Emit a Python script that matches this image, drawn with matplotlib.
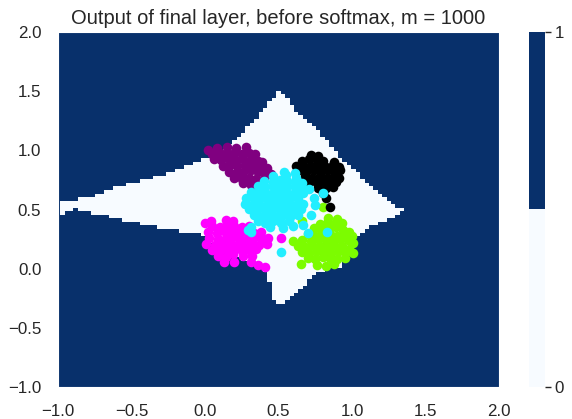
import numpy as np
import matplotlib
matplotlib.use("Agg")
import matplotlib.pyplot as plt
from matplotlib.colors import ListedColormap
from matplotlib.path import Path

plt.rcParams['font.family'] = ['Liberation Sans', 'DejaVu Sans']
plt.rcParams['text.color'] = '.15'
plt.rcParams['xtick.color'] = '.15'
plt.rcParams['ytick.color'] = '.15'

# outline of the region where the output is 0
region_x = [-0.99, -0.80, -0.65, -0.37, -0.05, 0.10, 0.19, 0.26, 0.41, 0.51,
            0.63, 0.78, 0.94, 1.10, 1.28, 1.35, 1.29, 1.14, 1.03, 0.92,
            0.76, 0.63, 0.53, 0.47, 0.43, 0.38, 0.20, -0.05, -0.34, -0.63,
            -0.88, -0.99]
region_y = [0.57, 0.60, 0.67, 0.76, 0.90, 0.98, 1.07, 1.15, 1.36, 1.52,
            1.32, 1.15, 0.92, 0.73, 0.54, 0.50, 0.44, 0.36, 0.27, 0.02,
            -0.03, -0.20, -0.31, -0.28, -0.07, 0.02, 0.10, 0.30, 0.35, 0.43,
            0.50, 0.46]

# scatter clusters
magenta_x = [0.04, 0.14, 0.19,
             0.05, 0.10, 0.15, 0.20, 0.25, 0.30,
             0.02, 0.08, 0.13, 0.18, 0.23, 0.28, 0.33, 0.38,
             0.03, 0.09, 0.14, 0.19, 0.24, 0.29, 0.34, 0.39, 0.43,
             0.01, 0.07, 0.12, 0.17, 0.22, 0.27, 0.32, 0.37, 0.42,
             0.05, 0.10, 0.15, 0.20, 0.25, 0.30, 0.35,
             0.09, 0.14, 0.19, 0.26, 0.32,
             0.13, 0.20, 0.31, 0.36, 0.41, 0.00, 0.52]
magenta_y = [0.40, 0.41, 0.40,
             0.36, 0.35, 0.37, 0.36, 0.35, 0.36,
             0.31, 0.30, 0.32, 0.31, 0.30, 0.31, 0.30, 0.31,
             0.26, 0.25, 0.26, 0.27, 0.25, 0.26, 0.27, 0.25, 0.26,
             0.21, 0.20, 0.21, 0.22, 0.20, 0.21, 0.22, 0.20, 0.21,
             0.16, 0.15, 0.16, 0.17, 0.15, 0.16, 0.17,
             0.11, 0.10, 0.12, 0.11, 0.11,
             0.06, 0.06, 0.06, 0.03, 0.01, 0.39, 0.26]

green_x = [0.84, 0.90,
           0.78, 0.83, 0.88, 0.93,
           0.74, 0.79, 0.84, 0.89, 0.94, 0.98,
           0.70, 0.75, 0.80, 0.85, 0.90, 0.95, 1.00,
           0.60, 0.66, 0.72, 0.77, 0.82, 0.87, 0.92, 0.97, 1.01,
           0.63, 0.68, 0.73, 0.78, 0.83, 0.88, 0.93, 0.98,
           0.66, 0.71, 0.76, 0.81, 0.86, 0.91, 0.96, 1.01,
           0.70, 0.75, 0.80, 0.85, 0.90, 0.95,
           0.65, 0.76, 0.82, 0.88, 0.80, 0.66]
green_y = [0.43, 0.42,
           0.38, 0.39, 0.38, 0.39,
           0.34, 0.33, 0.34, 0.35, 0.33, 0.31,
           0.29, 0.28, 0.30, 0.29, 0.28, 0.30, 0.28,
           0.23, 0.24, 0.23, 0.25, 0.24, 0.23, 0.25, 0.24, 0.22,
           0.19, 0.18, 0.20, 0.19, 0.18, 0.20, 0.19, 0.17,
           0.14, 0.13, 0.15, 0.14, 0.13, 0.15, 0.14, 0.13,
           0.09, 0.08, 0.10, 0.09, 0.08, 0.09,
           0.04, 0.03, 0.02, 0.04, 0.52, 0.40]

purple_x = [0.02, 0.08, 0.15, 0.21, 0.28,
            0.05, 0.10, 0.15, 0.20, 0.25, 0.30, 0.34,
            0.06, 0.11, 0.16, 0.21, 0.26, 0.31, 0.36, 0.39,
            0.12, 0.17, 0.22, 0.27, 0.32, 0.37, 0.42,
            0.16, 0.21, 0.26, 0.31, 0.36, 0.41, 0.45,
            0.20, 0.25, 0.30, 0.35, 0.40,
            0.26, 0.31, 0.36, 0.33]
purple_y = [1.00, 1.02, 1.03, 1.02, 1.03,
            0.97, 0.98, 0.97, 0.98, 0.97, 0.98, 0.97,
            0.93, 0.92, 0.93, 0.92, 0.93, 0.92, 0.91, 0.90,
            0.87, 0.88, 0.87, 0.88, 0.87, 0.86, 0.85,
            0.82, 0.81, 0.82, 0.83, 0.82, 0.81, 0.80,
            0.77, 0.76, 0.77, 0.76, 0.76,
            0.72, 0.71, 0.72, 0.66]

black_x = [0.72, 0.77,
           0.66, 0.71, 0.76, 0.80, 0.88,
           0.62, 0.67, 0.72, 0.77, 0.82, 0.87, 0.91,
           0.64, 0.69, 0.74, 0.79, 0.84, 0.89, 0.92,
           0.68, 0.73, 0.78, 0.83, 0.88, 0.91,
           0.71, 0.76, 0.81, 0.86, 0.89,
           0.77, 0.82, 0.87, 0.80,
           0.85, 0.82]
black_y = [0.96, 0.95,
           0.91, 0.93, 0.92, 0.91, 0.90,
           0.87, 0.88, 0.87, 0.88, 0.86, 0.88, 0.86,
           0.83, 0.82, 0.83, 0.82, 0.83, 0.82, 0.83,
           0.78, 0.77, 0.78, 0.77, 0.78, 0.77,
           0.73, 0.72, 0.73, 0.72, 0.73,
           0.68, 0.68, 0.69, 0.64,
           0.52, 0.60]

cyan_x = [0.46, 0.55, 0.62,
          0.40, 0.46, 0.51, 0.56, 0.61, 0.66,
          0.36, 0.41, 0.46, 0.51, 0.56, 0.61, 0.66,
          0.31, 0.36, 0.41, 0.46, 0.51, 0.56, 0.61, 0.67,
          0.28, 0.33, 0.38, 0.43, 0.48, 0.53, 0.58, 0.63,
          0.27, 0.32, 0.37, 0.42, 0.47, 0.52, 0.57, 0.62, 0.67,
          0.30, 0.35, 0.40, 0.45, 0.50, 0.55, 0.60, 0.65,
          0.33, 0.38, 0.43, 0.48, 0.53, 0.58, 0.63,
          0.36, 0.41, 0.46, 0.52, 0.57,
          0.31, 0.44, 0.53, 0.60,
          0.83, 0.52, 0.67, 0.75, 0.80, 0.61, 0.54, 0.29, 0.70, 0.72,
          0.74, 0.31, 0.71]
cyan_y = [0.78, 0.79, 0.77,
          0.74, 0.73, 0.75, 0.74, 0.73, 0.72,
          0.70, 0.69, 0.70, 0.69, 0.70, 0.69, 0.68,
          0.65, 0.64, 0.65, 0.64, 0.65, 0.64, 0.65, 0.64,
          0.60, 0.59, 0.60, 0.59, 0.60, 0.59, 0.60, 0.59,
          0.55, 0.54, 0.55, 0.54, 0.55, 0.54, 0.55, 0.54, 0.55,
          0.50, 0.49, 0.50, 0.49, 0.50, 0.49, 0.50, 0.50,
          0.45, 0.44, 0.45, 0.44, 0.45, 0.44, 0.45,
          0.40, 0.39, 0.40, 0.39, 0.40,
          0.35, 0.35, 0.34, 0.36,
          0.31, 0.14, 0.37, 0.54, 0.64, 0.81, 0.82, 0.33, 0.30, 0.45,
          0.60, 0.31, 0.67]

# grid of the network output
grid = np.linspace(-1, 2, 101)
gx, gy = np.meshgrid(grid, grid)
outline = Path(np.column_stack([region_x, region_y]))
inside = outline.contains_points(np.column_stack([gx.ravel(), gy.ravel()]))
output = np.where(inside, 0, 1).reshape(gx.shape)

fig = plt.figure(figsize=(5.72, 4.19), dpi=100)
ax = fig.add_axes([0.1014, 0.0764, 0.7710, 0.8472])
cax = fig.add_axes([0.9248, 0.0764, 0.0280, 0.8472])

cmap = ListedColormap(['#f7fbff', '#08306b'])
mesh = ax.pcolormesh(gx, gy, output, cmap=cmap, vmin=0, vmax=1, shading='nearest')

ax.scatter(magenta_x, magenta_y, c='#ff00ff', s=48, linewidths=0)
ax.scatter(green_x, green_y, c='#7cfc00', s=48, linewidths=0)
ax.scatter(purple_x, purple_y, c='#800080', s=48, linewidths=0)
ax.scatter(black_x, black_y, c='black', s=48, linewidths=0)
ax.scatter(cyan_x, cyan_y, c='#22eeff', s=48, linewidths=0)

ax.set_xlim(-1, 2)
ax.set_ylim(-1, 2)
ax.set_xticks([-1.0, -0.5, 0.0, 0.5, 1.0, 1.5, 2.0])
ax.set_yticks([-1.0, -0.5, 0.0, 0.5, 1.0, 1.5, 2.0])
ax.tick_params(length=0, pad=12, labelsize=12.2)
for s in ax.spines.values():
    s.set_color('white')
ax.set_title('Output of final layer, before softmax, m = 1000', fontsize=14.5)

cb = fig.colorbar(mesh, cax=cax, ticks=[0, 1])
cb.outline.set_visible(False)
cax.tick_params(length=4, width=1, pad=3, labelsize=12.2, color='.15')

fig.savefig('out.png', dpi=100)
